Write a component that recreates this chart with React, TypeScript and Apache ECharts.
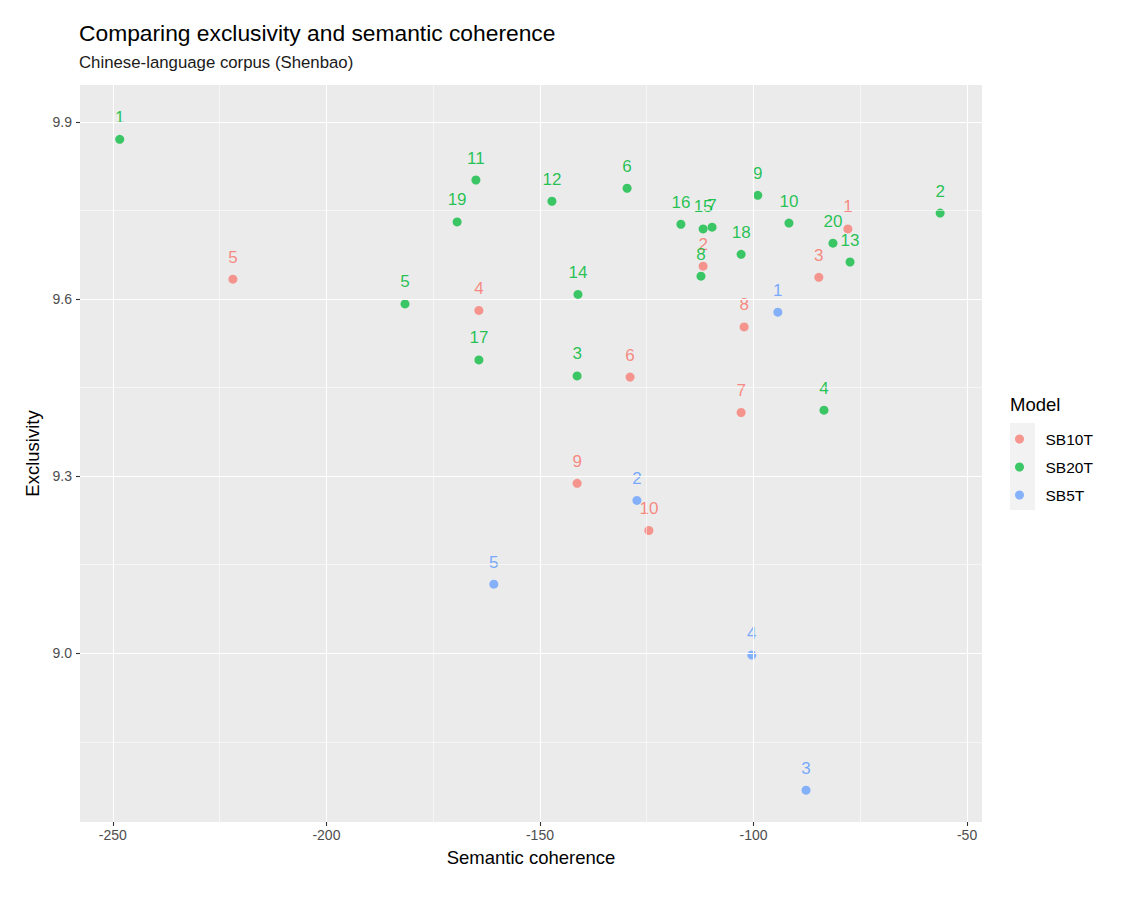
import React, { useEffect, useRef } from "react";
import * as echarts from "echarts";

// SB10T model (semantic coherence, exclusivity)
const sb10tX = [-77.9, -111.8, -84.7, -164.3, -221.9, -128.9, -102.9, -102.2, -141.3, -124.5];
const sb10tY = [9.719, 9.656, 9.637, 9.581, 9.634, 9.468, 9.408, 9.553, 9.288, 9.208];
// SB20T model
const sb20tX = [-248.4, -56.3, -141.3, -83.5, -181.6, -129.6, -109.7, -112.3, -99.0, -91.7,
  -165.0, -147.2, -77.4, -141.1, -111.8, -117.0, -164.3, -102.9, -169.4, -81.4];
const sb20tY = [9.871, 9.746, 9.470, 9.412, 9.592, 9.788, 9.722, 9.639, 9.776, 9.729,
  9.802, 9.766, 9.663, 9.608, 9.719, 9.727, 9.497, 9.676, 9.731, 9.695];
// SB5T model
const sb5tX = [-94.3, -127.3, -87.7, -100.4, -160.8];
const sb5tY = [9.578, 9.259, 8.768, 8.997, 9.117];

const modelNames = ["SB10T", "SB20T", "SB5T"];
const modelColors = ["#F8766D", "#00BA38", "#619CFF"];

const xMajorTicks = [-250, -200, -150, -100, -50];
const xMinorTicks = [-225, -175, -125, -75];
const yMajorTicks = [9.0, 9.3, 9.6, 9.9];
const yMinorTicks = [8.85, 9.15, 9.45, 9.75];

const xRange = [-257.7, -46.5];
const yRange = [8.714, 9.963];

const FONT = "'Liberation Sans', Arial, Helvetica, sans-serif";

function pts(xs: number[], ys: number[]) {
  return xs.map((x, i) => [x, ys[i], String(i + 1)]);
}

export default function App() {
  const ref = useRef<HTMLDivElement>(null);
  useEffect(() => {
    if (!ref.current) return;
    const chart = echarts.init(ref.current, null, { renderer: "svg" });
    const datasets = [pts(sb10tX, sb10tY), pts(sb20tX, sb20tY), pts(sb5tX, sb5tY)];
    const gridData: any[] = [
      ...xMajorTicks.map((v) => ({ xAxis: v, lineStyle: { width: 1.1 } })),
      ...xMinorTicks.map((v) => ({ xAxis: v, lineStyle: { width: 0.55 } })),
      ...yMajorTicks.map((v) => ({ yAxis: v, lineStyle: { width: 1.1 } })),
      ...yMinorTicks.map((v) => ({ yAxis: v, lineStyle: { width: 0.55 } })),
    ];
    const series: any[] = [
      {
        name: "grid",
        type: "scatter",
        data: [],
        z: 1,
        silent: true,
        markLine: {
          silent: true,
          symbol: ["none", "none"],
          label: { show: false },
          lineStyle: { color: "#FFFFFF", type: "solid" },
          emphasis: { disabled: true },
          data: gridData,
        },
      },
      ...modelNames.map((name, k) => ({
        name,
        type: "scatter",
        z: 3,
        data: datasets[k],
        symbol: "circle",
        symbolSize: 9,
        itemStyle: { color: modelColors[k], opacity: 0.75 },
        label: {
          show: true,
          position: "top",
          distance: 9,
          formatter: (p: any) => p.value[2],
          color: modelColors[k],
          opacity: 0.85,
          fontSize: 17,
          fontFamily: FONT,
        },
      })),
    ];
    chart.setOption({
      animation: false,
      backgroundColor: "#FFFFFF",
      title: {
        text: "Comparing exclusivity and semantic coherence",
        subtext: "Chinese-language corpus (Shenbao)",
        left: 74,
        top: 16,
        itemGap: 10,
        textStyle: { fontSize: 22.8, fontWeight: "normal", color: "#000000", fontFamily: FONT },
        subtextStyle: { fontSize: 16.8, color: "#1A1A1A", fontFamily: FONT },
      },
      legend: {
        data: modelNames,
        orient: "vertical",
        left: 1010,
        top: 426,
        itemWidth: 24,
        itemHeight: 9,
        itemGap: 12,
        icon: "circle",
        selectedMode: false,
        textStyle: { fontSize: 15.5, color: "#000000", fontFamily: FONT, lineHeight: 16, padding: [0, 0, 0, 9] },
      },
      graphic: [
        { type: "rect", left: 1010, top: 423, shape: { width: 25, height: 87 }, style: { fill: "#F2F2F2" }, z: -1 },
        {
          type: "text",
          left: 1010,
          top: 395,
          style: { text: "Model", fontSize: 18.5, fill: "#000000", fontFamily: FONT },
        },
      ],
      grid: { left: 80, right: 145, top: 85, bottom: 76, show: true, backgroundColor: "#EBEBEB", borderWidth: 0 },
      xAxis: {
        type: "value",
        min: xRange[0],
        max: xRange[1],
        splitLine: { show: false },
        axisLine: { show: false },
        axisTick: { show: true, length: 4, lineStyle: { color: "#333333", width: 1.1 }, customValues: xMajorTicks },
        axisLabel: { color: "#4D4D4D", fontSize: 14, fontFamily: FONT, margin: 6, customValues: xMajorTicks },
        name: "Semantic coherence",
        nameLocation: "middle",
        nameGap: 26,
        nameTextStyle: { fontSize: 18.5, color: "#000000", fontFamily: FONT },
      },
      yAxis: {
        type: "value",
        min: yRange[0],
        max: yRange[1],
        splitLine: { show: false },
        axisLine: { show: false },
        axisTick: { show: true, length: 4, lineStyle: { color: "#333333", width: 1.1 }, customValues: yMajorTicks },
        axisLabel: {
          color: "#4D4D4D",
          fontSize: 14,
          fontFamily: FONT,
          margin: 8,
          customValues: yMajorTicks,
          formatter: (v: number) => v.toFixed(1),
        },
        name: "Exclusivity",
        nameLocation: "middle",
        nameRotate: 90,
        nameGap: 36,
        nameTextStyle: { fontSize: 18.5, color: "#000000", fontFamily: FONT },
      },
      series,
    });
    return () => chart.dispose();
  }, []);
  return (
    <div
      ref={ref}
      style={{ position: "absolute", left: 0, top: 0, width: 1127, height: 898 }}
    />
  );
}
